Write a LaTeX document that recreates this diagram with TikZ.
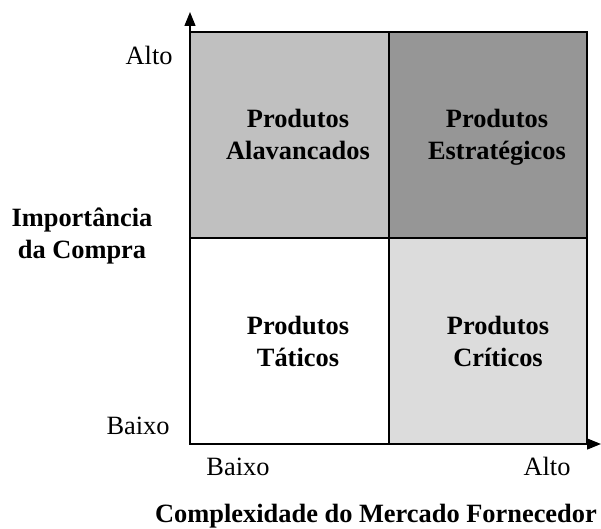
\documentclass[tikz,border=0pt]{standalone}
\usepackage{fontspec}
\setmainfont{Liberation Serif}
\usepackage{tikz}
\usetikzlibrary{arrows.meta}
\definecolor{alavgray}{HTML}{C0C0C0}
\definecolor{estrgray}{HTML}{969696}
\definecolor{critgray}{HTML}{DCDCDC}

\begin{document}
\begin{tikzpicture}[x=0.5pt, y=-0.5pt,
    lbl/.style={font=\fontsize{13.2}{15}\selectfont, inner sep=0},
    quadtext/.style={font=\fontsize{13.2}{16}\selectfont\bfseries, align=center, inner sep=0, anchor=north},
    quad/.style={draw, line width=0.6pt},
    axis/.style={-{Triangle[length=7pt,width=5.5pt]}, line width=0.7pt}
]
\useasboundingbox (0,0) rectangle (601,529);

% quadrants
\draw[quad, fill=alavgray] (190,32) rectangle (389,238);
\draw[quad, fill=estrgray] (389,32) rectangle (587,238);
\draw[quad, fill=white] (190,238) rectangle (389,444);
\draw[quad, fill=critgray] (389,238) rectangle (587,444);

\node[quadtext] (alavancados) at (298,109) {Produtos\\Alavancados};
\node[quadtext] (estrategicos) at (497,109) {Produtos\\Estratégicos};
\node[quadtext] (taticos) at (298,316) {Produtos\\Táticos};
\node[quadtext] (criticos) at (498,316) {Produtos\\Críticos};

% axes
\coordinate (origin) at (190,444);
\coordinate (ytip) at (190,12);
\coordinate (xtip) at (601,444);
\draw[axis] (origin) -- (ytip);
\draw[axis] (origin) -- (xtip);

% axis labels
\node[lbl, anchor=base east] (yalto) at (173,65) {Alto};
\node[lbl, anchor=base east] (ybaixo) at (170,435) {Baixo};
\node[lbl, anchor=base] (xbaixo) at (238,476) {Baixo};
\node[lbl, anchor=base] (xalto) at (547,476) {Alto};
\node[quadtext] (ytitle) at (82,207) {Importância\\da Compra};
\node[quadtext, anchor=base] (xtitle) at (376,523) {Complexidade do Mercado Fornecedor};
\end{tikzpicture}
\end{document}
